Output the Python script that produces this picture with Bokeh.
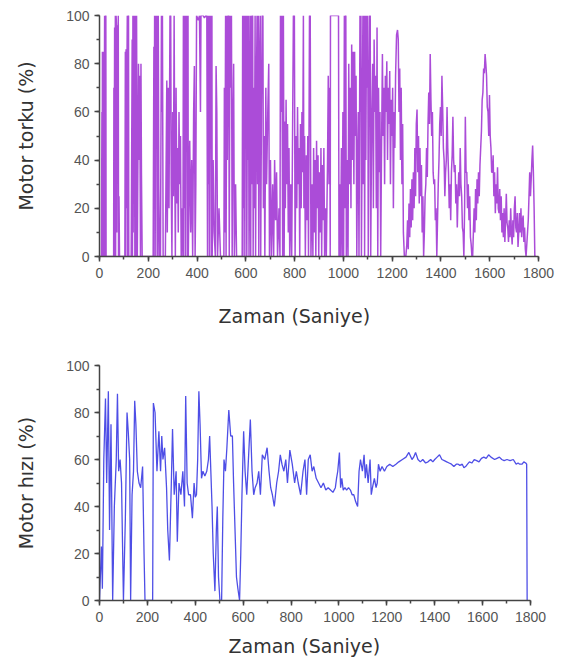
from bokeh.plotting import figure
from bokeh.layouts import column
from bokeh.models import Range1d, SingleIntervalTicker, Title
from bokeh.embed import file_html
from bokeh.resources import INLINE

# ---------------- Motor torque (%) vs time (s) ----------------
torque_t = [
    0, 8, 10, 11, 12, 13, 15, 16, 18, 19, 21, 22, 23, 24, 25, 26, 27, 31,
    52, 58, 59, 60, 62, 63, 65, 66, 68, 70, 71, 73, 75, 77, 78, 80, 82, 102,
    104, 106, 107, 109, 110, 112, 114, 115, 117, 119, 120, 121,
    130, 134, 135, 137, 138, 140, 142, 143, 145, 147, 149, 150, 152, 154, 155, 160, 162, 165, 168, 170, 172, 175, 216,
    220, 223, 224, 226, 227, 229, 231, 233, 235, 237, 239, 241, 243, 246, 250, 254, 256, 258, 261, 264,
    270, 276, 278, 282, 285, 289, 292, 294, 297, 300, 303, 306, 308, 311, 314, 317, 320, 323, 326, 329, 332, 335, 338,
    342, 344, 345, 347, 349, 351, 353, 355, 357, 359, 361, 363, 364, 370, 374, 378, 382, 386, 389, 392, 395,
    398, 405, 410, 414, 416, 425, 430, 436, 440, 443, 445, 447, 449, 451, 453, 455, 457, 459, 461, 462, 466, 470,
    475, 478, 481, 484, 490, 496, 510, 512, 514, 517, 519, 522, 524, 527, 530, 532, 535, 538, 541, 544, 547, 550, 553, 558, 562,
    575, 585, 587, 588, 590, 592, 594, 596, 598, 600, 602, 604, 607, 609, 611, 613, 616, 618, 620, 622, 624, 626, 628, 630,
    633, 635, 638, 640, 643, 646, 648, 651, 653, 656, 659, 661, 664, 667, 670, 672, 675, 678, 682, 685, 690, 694, 697, 701,
    705, 710, 714, 718, 722, 726, 730, 736, 740, 742, 745, 748, 751, 754, 757, 760, 762, 765, 768, 771, 774, 777, 780, 784, 788, 795, 799, 802,
    806, 809, 812, 815, 818, 821, 824, 827, 830, 833, 836, 838, 841, 844, 848, 851, 854, 857, 861, 864, 867,
    872, 875, 878, 881, 884, 887, 890, 893, 896, 899, 902, 905, 908, 911, 914, 917, 920, 923, 927, 930, 935, 938, 941, 944, 946,
    947, 955, 965, 975, 980, 982, 985, 988, 992, 995,
    998, 1001, 1004, 1006, 1008, 1010, 1012, 1016, 1019, 1022, 1025, 1028, 1031, 1034, 1037, 1040, 1043, 1046, 1049, 1052, 1055, 1058, 1061, 1064,
    1068, 1070, 1072, 1074, 1077, 1080, 1082, 1085, 1087, 1090, 1092, 1095, 1097, 1100, 1102, 1105, 1108, 1110, 1112, 1116,
    1120, 1123, 1126, 1129, 1132, 1135, 1138, 1141, 1144, 1147, 1150, 1153, 1156,
    1160, 1163, 1166, 1169, 1172, 1175, 1178, 1181, 1184, 1187, 1190, 1193, 1196, 1199, 1202, 1205, 1208, 1211, 1214, 1218,
    1222, 1225, 1228, 1231, 1234, 1237, 1240, 1243, 1246, 1250, 1256,
    1260, 1263, 1266, 1269, 1272, 1275, 1278, 1281, 1284, 1287,
    1290, 1293, 1296, 1299, 1302, 1305, 1308, 1311, 1314, 1317,
    1320, 1323, 1326, 1329, 1332, 1335, 1338, 1341, 1344, 1347,
    1350, 1353, 1356, 1359, 1362, 1365, 1368, 1371, 1374, 1377,
    1380, 1383, 1386, 1389, 1392, 1395, 1398, 1401, 1404, 1407,
    1410, 1413, 1416, 1419, 1422, 1425, 1428, 1431, 1434, 1437,
    1440, 1443, 1446, 1449, 1452, 1455, 1458, 1461, 1464, 1467,
    1470, 1473, 1476, 1479, 1482, 1485, 1488, 1491, 1494, 1497,
    1500, 1503, 1506, 1509, 1512, 1515, 1518, 1521, 1524, 1527,
    1530, 1533, 1536, 1539, 1542, 1545, 1548, 1551, 1554, 1557,
    1560, 1563, 1566, 1569, 1572, 1575, 1578, 1581, 1584, 1587,
    1590, 1593, 1596, 1599, 1602, 1605, 1608, 1611, 1614, 1617,
    1620, 1623, 1626, 1629, 1632, 1635, 1638, 1641, 1644, 1647,
    1650, 1653, 1656, 1659, 1662, 1665, 1668, 1671, 1674, 1677,
    1680, 1683, 1686, 1689, 1692, 1695, 1698, 1701, 1704, 1707,
    1710, 1713, 1716, 1719, 1722, 1725, 1728, 1731, 1734, 1737,
    1740, 1743, 1746, 1749, 1752, 1755, 1758, 1761, 1764, 1767,
    1770, 1773, 1776, 1779, 1782, 1785, 1790,
]
torque_v = [
    0, 0, 60, 0, 85, 10, 84, 0, 85, 30, 100, 0, 100, 40, 100, 100, 0, 0,
    0, 0, 70, 0, 95, 20, 100, 0, 100, 95, 10, 96, 40, 100, 0, 25, 0, 0,
    0, 85, 0, 86, 20, 70, 100, 0, 100, 100, 0, 0,
    0, 90, 0, 100, 10, 100, 60, 100, 0, 100, 85, 0, 100, 30, 0, 80, 40, 75, 0, 80, 35, 0, 0,
    0, 87, 0, 100, 20, 100, 0, 100, 60, 100, 0, 100, 30, 0, 0, 100, 60, 100, 0, 0,
    0, 73, 10, 70, 20, 100, 100, 30, 0, 60, 25, 100, 50, 0, 70, 22, 45, 10, 60, 30, 50, 0, 20,
    0, 100, 0, 100, 20, 100, 0, 100, 50, 100, 0, 100, 0, 48, 10, 40, 0, 60, 79, 0, 30,
    100, 98, 100, 60, 100, 100, 99, 100, 100, 0, 100, 30, 100, 0, 100, 60, 100, 0, 100, 0, 40, 10,
    0, 79, 60, 0, 20, 0, 0, 70, 10, 100, 0, 100, 40, 100, 100, 0, 100, 70, 100, 0, 55, 80, 0, 30, 0,
    0, 0, 100, 0, 100, 20, 100, 0, 100, 70, 100, 0, 100, 40, 100, 0, 60, 100, 0, 100, 30, 100, 100, 0,
    70, 20, 100, 0, 65, 100, 30, 100, 0, 80, 100, 0, 60, 100, 100, 20, 50, 0, 70, 30, 60, 80, 0, 40,
    0, 30, 0, 40, 15, 35, 0, 20, 0, 100, 60, 100, 0, 100, 0, 56, 20, 65, 30, 55, 10, 45, 0, 30, 0, 100, 100, 0,
    50, 20, 62, 30, 45, 0, 55, 20, 60, 35, 100, 20, 50, 0, 42, 15, 50, 0, 100, 100, 0,
    30, 0, 45, 10, 40, 0, 48, 20, 42, 0, 35, 10, 45, 0, 38, 15, 45, 0, 20, 0, 40, 75, 30, 70, 0,
    100, 100, 100, 100, 100, 0, 30, 0, 45, 0,
    60, 0, 100, 20, 100, 100, 0, 40, 0, 80, 30, 70, 20, 88, 40, 85, 30, 85, 50, 75, 0, 40, 60, 0,
    100, 60, 100, 0, 50, 100, 30, 100, 0, 100, 40, 100, 70, 100, 0, 60, 100, 100, 0, 55,
    80, 20, 90, 60, 75, 20, 95, 0, 70, 35, 60, 0, 40,
    84, 50, 70, 30, 75, 60, 81, 40, 70, 55, 77, 30, 65, 50, 70, 20, 60, 45, 75, 92,
    94, 90, 60, 78, 40, 70, 30, 55, 10, 0, 0,
    5, 15, 3, 22, 8, 28, 12, 32, 15, 35,
    20, 45, 25, 55, 61, 35, 50, 22, 45, 25,
    38, 10, 25, 0, 10, 25, 30, 45, 33, 55,
    68, 55, 84, 65, 50, 60, 35, 30, 32, 15,
    20, 0, 15, 30, 40, 55, 62, 50, 75, 62,
    45, 40, 25, 35, 40, 62, 45, 35, 20, 30,
    15, 35, 42, 58, 40, 35, 38, 22, 30, 12,
    25, 35, 25, 45, 30, 25, 12, 10, 0, 20,
    58, 35, 35, 20, 30, 15, 25, 8, 5, 0,
    0, 10, 20, 10, 28, 15, 32, 22, 35, 25,
    38, 45, 52, 65, 68, 78, 76, 84, 80, 75,
    62, 60, 50, 67, 50, 45, 35, 35, 42, 25,
    35, 18, 30, 22, 37, 20, 18, 28, 15, 25,
    10, 18, 8, 20, 6, 15, 26, 14, 12, 6,
    15, 8, 20, 10, 5, 15, 8, 20, 25, 12,
    10, 18, 4, 10, 18, 10, 20, 8, 15, 17,
    6, 12, 3, 0, 5, 10, 15, 25, 35, 25,
    32, 40, 46, 35, 20, 0, 0,
]

# ---------------- Motor speed (%) vs time (s) ----------------
speed_t = [
    0, 8, 12, 18, 25, 30, 37, 42, 48, 55,
    62, 70, 75, 80, 86, 92, 100, 108, 115, 120,
    126, 130, 136, 142, 147, 152, 158, 165, 172, 180,
    186, 190, 222, 225, 232, 240, 248, 255, 260, 265,
    272, 280, 285, 292, 300, 305, 312, 320, 325, 332,
    340, 348, 355, 360, 366, 372, 380, 388, 395, 400,
    405, 410, 415, 420, 426, 432, 440, 448, 455, 460,
    465, 470, 475, 482, 488, 492, 497, 503, 510, 515,
    520, 526, 532, 540, 548, 555, 560, 566, 572, 578,
    585, 590, 595, 602, 608, 615, 622, 630, 637, 644,
    650, 658, 665, 672, 680, 690, 700, 708, 715, 722,
    730, 735, 740, 748, 755, 762, 770, 778, 785, 795,
    805, 815, 822, 830, 840, 850, 858, 865, 872, 880,
    888, 895, 905, 915, 925, 935, 945, 955, 965, 975,
    985, 990, 995, 1002, 1007, 1012, 1018, 1025, 1032, 1040,
    1048, 1055, 1062, 1070, 1078, 1084, 1090, 1098, 1105, 1110,
    1115, 1122, 1130, 1135, 1140, 1148, 1155, 1160, 1165, 1172,
    1180, 1190, 1200, 1212, 1225, 1238, 1250, 1265, 1280, 1292,
    1305, 1312, 1320, 1330, 1340, 1350, 1362, 1372, 1383, 1392,
    1400, 1410, 1420, 1430, 1440, 1450, 1460, 1470, 1480, 1490,
    1498, 1505, 1515, 1522, 1529, 1537, 1545, 1555, 1565, 1575,
    1585, 1595, 1605, 1615, 1625, 1635, 1650, 1660, 1670, 1680,
    1690, 1702, 1715, 1728, 1740, 1748, 1755, 1765, 1772, 1780,
    1784, 1786,
]
speed_v = [
    0, 23, 5, 60, 86, 50, 89, 30, 75, 0,
    40, 60, 88, 55, 60, 50, 0, 35, 80, 72,
    60, 0, 45, 55, 85, 75, 55, 50, 48, 57,
    20, 0, 0, 84, 80, 55, 72, 55, 70, 60,
    65, 48, 30, 17, 50, 73, 45, 55, 25, 50,
    45, 55, 40, 87, 50, 45, 45, 35, 50, 44,
    45, 60, 89, 75, 52, 55, 53, 55, 60, 70,
    55, 40, 20, 4, 30, 40, 10, 0, 0, 35,
    60, 55, 65, 81, 70, 70, 50, 30, 10, 5,
    0, 20, 45, 72, 55, 45, 60, 77, 55, 45,
    48, 50, 55, 45, 62, 60, 65, 55, 48, 45,
    40, 45, 50, 55, 62, 58, 55, 60, 50, 64,
    58, 50, 55, 50, 45, 55, 60, 45, 60, 62,
    55, 57, 52, 50, 48, 50, 47, 48, 47, 46,
    48, 52, 55, 63, 48, 52, 47, 48, 47, 48,
    47, 45, 45, 42, 40, 55, 60, 55, 62, 52,
    58, 50, 60, 45, 48, 52, 48, 50, 58, 55,
    57, 55, 57, 58, 57, 58, 59, 60, 61, 63,
    60, 61, 63, 60, 59, 60, 58.5, 59, 60, 59,
    60, 61, 62, 60, 59.5, 59, 58.5, 58, 57, 58,
    58, 57.5, 58, 56.5, 57, 58, 59, 58.5, 60, 59.5,
    59, 60.5, 61, 60.5, 62, 61, 60, 60.5, 61, 60,
    59.5, 60, 59.5, 60, 58, 58.5, 58, 58, 59, 58.5,
    58, 0,
]

AXIS_COLOR = "#444444"
TICK_LABEL_COLOR = "#555555"
TITLE_FONT = "DejaVu Sans"


def style(p, ylabel, xtitle_offset, xtitle_standoff):
    p.xaxis.ticker = SingleIntervalTicker(interval=200, num_minor_ticks=2)
    p.yaxis.ticker = SingleIntervalTicker(interval=20, num_minor_ticks=2)
    p.xgrid.visible = False
    p.ygrid.visible = False
    p.outline_line_color = None
    for ax in (p.xaxis[0], p.yaxis[0]):
        ax.axis_line_color = AXIS_COLOR
        ax.axis_line_width = 1.5
        ax.major_tick_line_color = AXIS_COLOR
        ax.major_tick_line_width = 1.5
        ax.minor_tick_line_color = AXIS_COLOR
        ax.minor_tick_line_width = 1.5
        ax.major_tick_out = 5
        ax.major_tick_in = 0
        ax.minor_tick_out = 3
        ax.minor_tick_in = 0
        ax.major_label_text_font = "Liberation Sans"
        ax.major_label_text_font_size = "14px"
        ax.major_label_text_color = TICK_LABEL_COLOR
    p.xaxis.major_label_standoff = 6
    p.yaxis.major_label_standoff = 5
    p.yaxis.axis_label = ylabel
    p.yaxis.axis_label_text_font = TITLE_FONT
    p.yaxis.axis_label_text_font_size = "19px"
    p.yaxis.axis_label_text_font_style = "normal"
    p.yaxis.axis_label_text_color = "#333333"
    p.yaxis.axis_label_standoff = 26
    xt = Title(text="Zaman (Saniye)", align="left", offset=xtitle_offset, standoff=xtitle_standoff,
               text_font=TITLE_FONT, text_font_size="19px", text_font_style="normal",
               text_color="#333333")
    p.add_layout(xt, "below")


p1 = figure(frame_width=439, frame_height=241, output_backend="svg", toolbar_location=None,
            x_range=Range1d(0, 1800), y_range=Range1d(0, 100),
            min_border_left=99, min_border_top=15, min_border_bottom=94, min_border_right=25)
p1.line(torque_t, torque_v, line_color="#8800c8", line_alpha=0.7, line_width=1.5)
style(p1, "Motor torku (%)", 119, 45)

p2 = figure(frame_width=431, frame_height=235, output_backend="svg", toolbar_location=None,
            x_range=Range1d(0, 1800), y_range=Range1d(0, 100),
            min_border_left=99, min_border_top=15, min_border_bottom=60, min_border_right=33)
p2.line(speed_t, speed_v, line_color="#2222e0", line_alpha=0.8, line_width=1.3)
style(p2, "Motor hızı (%)", 129, 17)

layout = column(p1, p2, spacing=0)
open("out.html", "w").write(file_html(layout, INLINE))
